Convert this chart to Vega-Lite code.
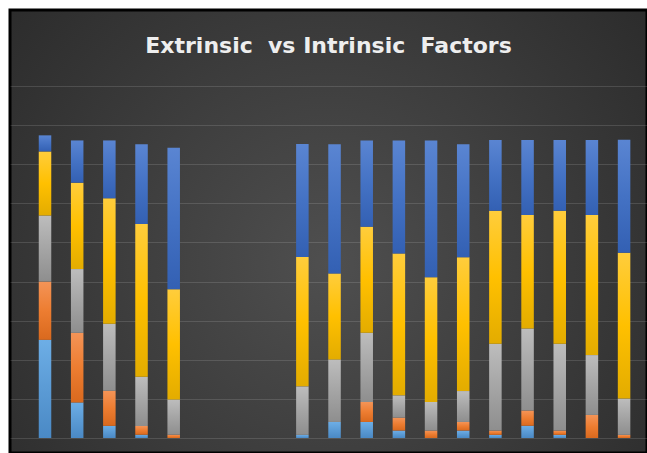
{
  "$schema": "https://vega.github.io/schema/vega-lite/v6.json",
  "width": 637,
  "height": 443,
  "autosize": {"type": "none"},
  "padding": {"left": 10, "top": 10, "right": 0, "bottom": 0},
  "background": "#ffffff",
  "view": {
    "fill": {"gradient": "radial", "x1": 0.5, "y1": 0.55, "r1": 0, "x2": 0.5, "y2": 0.55, "r2": 0.75,
      "stops": [{"offset": 0, "color": "#4f4f4f"}, {"offset": 1, "color": "#262626"}]},
    "stroke": "#000000",
    "strokeWidth": 3
  },
  "title": {
    "text": "Extrinsic\u00a0 vs Intrinsic\u00a0 Factors",
    "color": "#eeeeee",
    "font": "DejaVu Sans",
    "fontSize": 22,
    "fontWeight": "bold",
    "anchor": "middle",
    "frame": "group",
    "offset": 0,
    "dy": 48
  },
  "data": {"values": [
    {"cat": "E1", "series": "Series1", "v": 25.1}, {"cat": "E1", "series": "Series2", "v": 14.9}, {"cat": "E1", "series": "Series3", "v": 16.9}, {"cat": "E1", "series": "Series4", "v": 16.4}, {"cat": "E1", "series": "Series5", "v": 4.1},
    {"cat": "E2", "series": "Series1", "v": 9.1}, {"cat": "E2", "series": "Series2", "v": 17.8}, {"cat": "E2", "series": "Series3", "v": 16.3}, {"cat": "E2", "series": "Series4", "v": 22.1}, {"cat": "E2", "series": "Series5", "v": 10.8},
    {"cat": "E3", "series": "Series1", "v": 3.1}, {"cat": "E3", "series": "Series2", "v": 9.0}, {"cat": "E3", "series": "Series3", "v": 17.1}, {"cat": "E3", "series": "Series4", "v": 32.1}, {"cat": "E3", "series": "Series5", "v": 14.8},
    {"cat": "E4", "series": "Series1", "v": 0.85}, {"cat": "E4", "series": "Series2", "v": 2.2}, {"cat": "E4", "series": "Series3", "v": 12.6}, {"cat": "E4", "series": "Series4", "v": 39.1}, {"cat": "E4", "series": "Series5", "v": 20.4},
    {"cat": "E5", "series": "Series1", "v": 0}, {"cat": "E5", "series": "Series2", "v": 0.85}, {"cat": "E5", "series": "Series3", "v": 9.0}, {"cat": "E5", "series": "Series4", "v": 28.2}, {"cat": "E5", "series": "Series5", "v": 36.2},
    {"cat": "I1", "series": "Series1", "v": 0.8}, {"cat": "I1", "series": "Series2", "v": 0}, {"cat": "I1", "series": "Series3", "v": 12.4}, {"cat": "I1", "series": "Series4", "v": 33.1}, {"cat": "I1", "series": "Series5", "v": 28.9},
    {"cat": "I2", "series": "Series1", "v": 4.1}, {"cat": "I2", "series": "Series2", "v": 0}, {"cat": "I2", "series": "Series3", "v": 16.0}, {"cat": "I2", "series": "Series4", "v": 22.0}, {"cat": "I2", "series": "Series5", "v": 33.0},
    {"cat": "I3", "series": "Series1", "v": 4.1}, {"cat": "I3", "series": "Series2", "v": 5.1}, {"cat": "I3", "series": "Series3", "v": 17.7}, {"cat": "I3", "series": "Series4", "v": 27.1}, {"cat": "I3", "series": "Series5", "v": 22.1},
    {"cat": "I4", "series": "Series1", "v": 1.9}, {"cat": "I4", "series": "Series2", "v": 3.3}, {"cat": "I4", "series": "Series3", "v": 5.7}, {"cat": "I4", "series": "Series4", "v": 36.3}, {"cat": "I4", "series": "Series5", "v": 28.9},
    {"cat": "I5", "series": "Series1", "v": 0}, {"cat": "I5", "series": "Series2", "v": 1.9}, {"cat": "I5", "series": "Series3", "v": 7.3}, {"cat": "I5", "series": "Series4", "v": 31.9}, {"cat": "I5", "series": "Series5", "v": 35.0},
    {"cat": "I6", "series": "Series1", "v": 1.9}, {"cat": "I6", "series": "Series2", "v": 2.2}, {"cat": "I6", "series": "Series3", "v": 7.9}, {"cat": "I6", "series": "Series4", "v": 34.2}, {"cat": "I6", "series": "Series5", "v": 28.9},
    {"cat": "I7", "series": "Series1", "v": 0.8}, {"cat": "I7", "series": "Series2", "v": 1.1}, {"cat": "I7", "series": "Series3", "v": 22.2}, {"cat": "I7", "series": "Series4", "v": 34.0}, {"cat": "I7", "series": "Series5", "v": 18.1},
    {"cat": "I8", "series": "Series1", "v": 3.1}, {"cat": "I8", "series": "Series2", "v": 3.9}, {"cat": "I8", "series": "Series3", "v": 21.0}, {"cat": "I8", "series": "Series4", "v": 29.0}, {"cat": "I8", "series": "Series5", "v": 19.2},
    {"cat": "I9", "series": "Series1", "v": 0.8}, {"cat": "I9", "series": "Series2", "v": 1.1}, {"cat": "I9", "series": "Series3", "v": 22.2}, {"cat": "I9", "series": "Series4", "v": 34.0}, {"cat": "I9", "series": "Series5", "v": 18.1},
    {"cat": "I10", "series": "Series1", "v": 0}, {"cat": "I10", "series": "Series2", "v": 5.9}, {"cat": "I10", "series": "Series3", "v": 15.3}, {"cat": "I10", "series": "Series4", "v": 35.8}, {"cat": "I10", "series": "Series5", "v": 19.2},
    {"cat": "I11", "series": "Series1", "v": 0}, {"cat": "I11", "series": "Series2", "v": 0.8}, {"cat": "I11", "series": "Series3", "v": 9.3}, {"cat": "I11", "series": "Series4", "v": 37.3}, {"cat": "I11", "series": "Series5", "v": 28.9}
  ]},
  "transform": [
    {"stack": "v", "groupby": ["cat"], "sort": [{"field": "series", "order": "ascending"}], "as": ["y0", "y1"]}
  ],
  "encoding": {
    "x": {
      "field": "cat", "type": "nominal",
      "scale": {
        "domain": ["E1", "E2", "E3", "E4", "E5", "G1", "G2", "G3", "I1", "I2", "I3", "I4", "I5", "I6", "I7", "I8", "I9", "I10", "I11"],
        "paddingInner": 0.611, "paddingOuter": 0.706, "align": 0.633
      },
      "axis": null
    },
    "y": {
      "field": "y0", "type": "quantitative",
      "scale": {"domain": [-3.84, 109.46], "nice": false, "zero": false},
      "axis": {"values": [0, 10, 20, 30, 40, 50, 60, 70, 80, 90], "grid": true, "domain": false, "ticks": false, "labels": false, "title": null, "gridColor": "#ffffff", "gridOpacity": 0.13, "gridWidth": 1}
    },
    "y2": {"field": "y1"}
  },
  "layer": [
    {"transform": [{"filter": "datum.series === 'Series1'"}],
     "mark": {"type": "bar", "color": {"gradient": "linear", "x1": 0, "y1": 0, "x2": 0, "y2": 1, "stops": [{"offset": 0, "color": "#6daee6"}, {"offset": 0.5, "color": "#5b9bd5"}, {"offset": 1, "color": "#4a89c5"}]}}},
    {"transform": [{"filter": "datum.series === 'Series2'"}],
     "mark": {"type": "bar", "color": {"gradient": "linear", "x1": 0, "y1": 0, "x2": 0, "y2": 1, "stops": [{"offset": 0, "color": "#f49457"}, {"offset": 0.5, "color": "#ed7d31"}, {"offset": 1, "color": "#d9691e"}]}}},
    {"transform": [{"filter": "datum.series === 'Series3'"}],
     "mark": {"type": "bar", "color": {"gradient": "linear", "x1": 0, "y1": 0, "x2": 0, "y2": 1, "stops": [{"offset": 0, "color": "#bdbdbd"}, {"offset": 0.5, "color": "#a5a5a5"}, {"offset": 1, "color": "#8e8e8e"}]}}},
    {"transform": [{"filter": "datum.series === 'Series4'"}],
     "mark": {"type": "bar", "color": {"gradient": "linear", "x1": 0, "y1": 0, "x2": 0, "y2": 1, "stops": [{"offset": 0, "color": "#ffcd3c"}, {"offset": 0.5, "color": "#ffc000"}, {"offset": 1, "color": "#e3ac00"}]}}},
    {"transform": [{"filter": "datum.series === 'Series5'"}],
     "mark": {"type": "bar", "color": {"gradient": "linear", "x1": 0, "y1": 0, "x2": 0, "y2": 1, "stops": [{"offset": 0, "color": "#5a85d2"}, {"offset": 0.5, "color": "#4472c4"}, {"offset": 1, "color": "#3360b3"}]}}}
  ]
}
